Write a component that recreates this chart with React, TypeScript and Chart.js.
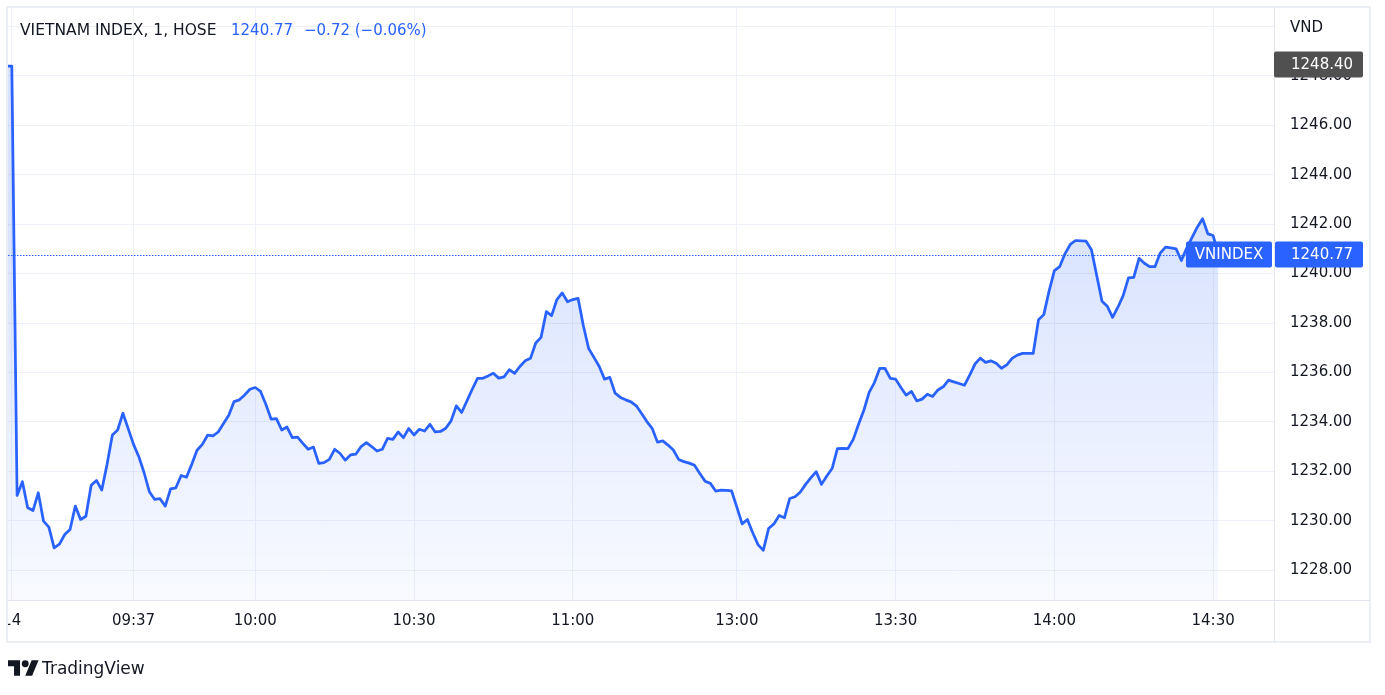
import React, { useEffect, useRef } from "react";
import { Chart, registerables } from "chart.js";

Chart.register(...registerables);

// session minute index (0 = first bar; 11:30 -> 136, 13:00 -> 137)
const sessionMinutes = [
  -1, 0, 1, 2, 3, 4, 5, 6, 7, 8, 9, 10, 11, 12, 13, 14, 15, 16, 17, 18, 19, 20, 21, 23, 24, 25, 26, 27, 28, 29,
  30, 31, 32, 33, 34, 35, 36, 37, 38, 39, 40, 41, 42, 43, 44, 45, 46, 47, 48, 49, 50, 51, 52, 53, 54, 55, 56, 57, 58, 59,
  60, 61, 62, 63, 64, 65, 66, 67, 68, 69, 70, 71, 72, 73, 74, 75, 76, 77, 78, 79, 80, 81, 82, 83, 84, 85, 86, 87, 88, 89,
  90, 91, 92, 93, 94, 95, 96, 97, 98, 99, 100, 101, 102, 103, 104, 105, 106, 107, 108, 109, 110, 111, 112, 113, 114, 115, 116, 117, 118, 119,
  120, 121, 122, 123, 124, 125, 126, 127, 128, 129, 130, 131, 132, 133, 134, 135, 136, 137, 138, 139, 140, 141, 142, 143, 144, 145, 146, 147, 148, 149,
  150, 151, 152, 153, 154, 155, 156, 157, 158, 159, 160, 161, 162, 163, 164, 165, 166, 167, 168, 169, 170, 171, 172, 173, 174, 175, 176, 177, 178, 179,
  180, 181, 182, 183, 184, 185, 186, 187, 188, 189, 190, 191, 192, 193, 194, 195, 196, 197, 198, 199, 200, 201, 203, 204, 205, 206, 207, 208, 209,
  210, 211, 212, 213, 214, 215, 216, 217, 218, 219, 220, 221, 222, 224, 225, 226, 227, 228,
];

const indexValues = [
  1248.4, 1248.4, 1231.02, 1231.58, 1230.52, 1230.41, 1231.13, 1229.98, 1229.74, 1228.9, 1229.05, 1229.44, 1229.64, 1230.59, 1230.05, 1230.18, 1231.43, 1231.63, 1231.24, 1232.28, 1233.47, 1233.67, 1234.35, 1233.09, 1232.59, 1231.94, 1231.17, 1230.86, 1230.89, 1230.59,
  1231.29, 1231.33, 1231.83, 1231.76, 1232.28, 1232.85, 1233.09, 1233.46, 1233.43, 1233.59, 1233.93, 1234.27, 1234.82, 1234.89, 1235.09, 1235.32, 1235.39, 1235.23, 1234.71, 1234.11, 1234.13, 1233.67, 1233.79, 1233.36, 1233.38, 1233.13, 1232.89, 1232.98, 1232.32, 1232.35,
  1232.48, 1232.89, 1232.73, 1232.45, 1232.66, 1232.69, 1233.0, 1233.16, 1233.0, 1232.82, 1232.89, 1233.33, 1233.29, 1233.59, 1233.36, 1233.73, 1233.47, 1233.7, 1233.63, 1233.9, 1233.59, 1233.61, 1233.74, 1234.04, 1234.65, 1234.38, 1234.85, 1235.32, 1235.76, 1235.76,
  1235.86, 1235.97, 1235.77, 1235.82, 1236.11, 1235.96, 1236.24, 1236.47, 1236.57, 1237.19, 1237.42, 1238.46, 1238.3, 1238.95, 1239.22, 1238.86, 1238.95, 1239.0, 1237.89, 1236.97, 1236.61, 1236.24, 1235.73, 1235.8, 1235.16, 1234.99, 1234.89, 1234.81, 1234.65, 1234.34,
  1234.01, 1233.74, 1233.18, 1233.23, 1233.06, 1232.86, 1232.48, 1232.39, 1232.33, 1232.24, 1231.91, 1231.6, 1231.51, 1231.2, 1231.24, 1231.23, 1231.21, 1230.55, 1229.87, 1230.05, 1229.51, 1229.03, 1228.8, 1229.68, 1229.87, 1230.21, 1230.12, 1230.9, 1230.97, 1231.16,
  1231.47, 1231.74, 1231.98, 1231.47, 1231.81, 1232.11, 1232.92, 1232.93, 1232.92, 1233.29, 1233.9, 1234.47, 1235.19, 1235.59, 1236.16, 1236.16, 1235.76, 1235.73, 1235.39, 1235.08, 1235.23, 1234.85, 1234.92, 1235.12, 1235.03, 1235.29, 1235.42, 1235.69, 1235.62, 1235.55,
  1235.48, 1235.89, 1236.34, 1236.58, 1236.41, 1236.47, 1236.37, 1236.17, 1236.31, 1236.57, 1236.7, 1236.77, 1236.77, 1236.77, 1238.13, 1238.34, 1239.29, 1240.12, 1240.28, 1240.8, 1241.18, 1241.34, 1241.31, 1240.97, 1239.92, 1238.88, 1238.68, 1238.23, 1238.64,
  1239.11, 1239.83, 1239.85, 1240.62, 1240.42, 1240.28, 1240.28, 1240.83, 1241.07, 1241.04, 1241.0, 1240.53, 1241.03, 1241.88, 1242.22, 1241.61, 1241.54, 1240.77,
];

const xTickMinutes = [0, 23, 46, 76, 106, 137, 167, 197, 227];
const xTickLabels = ["14", "09:37", "10:00", "10:30", "11:00", "13:00", "13:30", "14:00", "14:30"];
const yTickValues = [1228, 1230, 1232, 1234, 1236, 1238, 1240, 1242, 1244, 1246, 1248, 1250];

const symbolName = "VNINDEX";
const legendTitle = "VIETNAM INDEX, 1, HOSE";
const lastValue = 1240.77;
const changeText = "\u22120.72 (\u22120.06%)";
const markedHigh = 1248.4;

const BLUE = "#2962ff";
const TEXT = "#131722";
const FONT = "'DejaVu Sans', sans-serif";

export default function App() {
  const canvasRef = useRef<HTMLCanvasElement | null>(null);

  useEffect(() => {
    const canvas = canvasRef.current;
    if (!canvas) return;

    const overlay = {
      id: "tvOverlay",
      beforeDatasetsDraw(chart: any) {
        const { ctx, chartArea, scales } = chart;
        const y = Math.round(scales.y.getPixelForValue(lastValue)) + 0.5;
        ctx.save();
        ctx.strokeStyle = BLUE;
        ctx.lineWidth = 1;
        ctx.setLineDash([1.5, 1.5]);
        ctx.beginPath();
        ctx.moveTo(chartArea.left, y);
        ctx.lineTo(1186, y);
        ctx.stroke();
        ctx.restore();
      },
      afterDraw(chart: any) {
        const { ctx, chartArea, scales } = chart;
        ctx.save();
        // clip the first time label at the frame
        ctx.fillStyle = "#ffffff";
        ctx.fillRect(0, chartArea.bottom + 1, 8, 50);

        // frame & separators
        ctx.strokeStyle = "#eceef5";
        ctx.lineWidth = 2;
        ctx.strokeRect(7, 7, 1363, 635);
        ctx.strokeStyle = "#e0e3eb";
        ctx.lineWidth = 1;
        ctx.beginPath();
        ctx.moveTo(7, chartArea.bottom + 0.5);
        ctx.lineTo(1370, chartArea.bottom + 0.5);
        ctx.moveTo(chartArea.right + 0.5, 7);
        ctx.lineTo(chartArea.right + 0.5, 642);
        ctx.stroke();

        const box = (x: number, w: number, yc: number, color: string, text: string, align: "left" | "center", tx: number) => {
          ctx.fillStyle = color;
          ctx.beginPath();
          if ((ctx as any).roundRect) (ctx as any).roundRect(x, yc - 13, w, 26, 2);
          else ctx.rect(x, yc - 13, w, 26);
          ctx.fill();
          ctx.fillStyle = "#ffffff";
          ctx.font = `15px ${FONT}`;
          ctx.textAlign = align;
          ctx.textBaseline = "middle";
          ctx.fillText(text, tx, yc + 0.5);
        };

        const yHigh = scales.y.getPixelForValue(markedHigh) - 1.5;
        box(chartArea.right, 89, yHigh, "#505050", markedHigh.toFixed(2), "left", 1291);
        const yLast = scales.y.getPixelForValue(lastValue);
        box(1186, 86, yLast, BLUE, symbolName, "center", 1229);
        box(chartArea.right + 1, 88, yLast, BLUE, lastValue.toFixed(2), "left", 1291);
        ctx.restore();
      },
    };

    const chart = new Chart(canvas, {
      type: "line",
      data: {
        datasets: [
          {
            label: symbolName,
            data: sessionMinutes.map((m, i) => ({ x: m, y: indexValues[i] })),
            borderColor: BLUE,
            borderWidth: 2.75,
            pointRadius: 0,
            tension: 0,
            borderJoinStyle: "round",
            fill: "start",
            backgroundColor: (c: any) => {
              const ch = c.chart;
              const area = ch.chartArea;
              if (!area) return "rgba(41,98,255,0.1)";
              const top = ch.scales.y.getPixelForValue(Math.max(...indexValues.slice(2)));
              const g = ch.ctx.createLinearGradient(0, top, 0, area.bottom);
              g.addColorStop(0, "rgba(41,98,255,0.18)");
              g.addColorStop(1, "rgba(41,98,255,0.03)");
              return g;
            },
          },
        ],
      },
      options: {
        animation: false,
        responsive: false,
        layout: { padding: { left: 8, top: 8, right: 15, bottom: 53 } },
        plugins: { legend: { display: false }, tooltip: { enabled: false } },
        scales: {
          x: {
            type: "linear",
            min: -0.72,
            max: 238.5,
            afterBuildTicks: (s: any) => {
              s.ticks = xTickMinutes.map((v) => ({ value: v }));
            },
            afterFit: (s: any) => {
              s.height = 42;
              s.paddingLeft = 0;
              s.paddingRight = 0;
            },
            ticks: {
              autoSkip: false,
              maxRotation: 0,
              padding: 12,
              color: TEXT,
              font: { family: FONT, size: 15 },
              callback: (v: any) => {
                const k = xTickMinutes.indexOf(Number(v));
                return k >= 0 ? xTickLabels[k] : "";
              },
            },
            grid: { color: "#eef1f8", lineWidth: 1, drawTicks: false },
            border: { display: false },
          },
          y: {
            position: "right",
            min: 1226.79,
            max: 1250.75,
            afterBuildTicks: (s: any) => {
              s.ticks = yTickValues.map((v) => ({ value: v }));
            },
            afterFit: (s: any) => {
              s.width = 96;
              s.paddingTop = 0;
              s.paddingBottom = 0;
            },
            ticks: {
              padding: 16,
              color: TEXT,
              font: { family: FONT, size: 15 },
              callback: (v: any) => (Number(v) >= 1250 ? "" : Number(v).toFixed(2)),
            },
            grid: { color: "#eef1f8", lineWidth: 1, drawTicks: false },
            border: { display: false },
          },
        },
      },
      plugins: [overlay],
    } as any);

    return () => chart.destroy();
  }, []);

  const textBase: React.CSSProperties = {
    position: "absolute",
    fontFamily: FONT,
    fontSize: 15,
    lineHeight: "18px",
    whiteSpace: "nowrap",
  };

  return (
    <div style={{ position: "fixed", left: 0, top: 0, width: 1385, height: 695, background: "#fff" }}>
      <canvas ref={canvasRef} width={1385} height={695} style={{ position: "absolute", left: 0, top: 0 }} />
      <span style={{ ...textBase, left: 20, top: 21, fontSize: 15.5, color: TEXT }}>{legendTitle}</span>
      <span style={{ ...textBase, left: 231, top: 21, color: BLUE }}>{lastValue.toFixed(2)}</span>
      <span style={{ ...textBase, left: 304, top: 21, color: BLUE }}>{changeText}</span>
      <span style={{ ...textBase, left: 1290, top: 18, color: TEXT }}>VND</span>
      <svg
        width={31}
        height={16}
        viewBox="0 4 36 18"
        style={{ position: "absolute", left: 8, top: 660 }}
      >
        <path d="M14 22H7V11H0V4h14v18zM28 22h-8l7.5-18h8L28 22z" fill={TEXT} />
        <circle cx={20} cy={8} r={4} fill={TEXT} />
      </svg>
      <span style={{ ...textBase, left: 42, top: 658, fontSize: 17, lineHeight: "20px", color: TEXT }}>TradingView</span>
    </div>
  );
}
